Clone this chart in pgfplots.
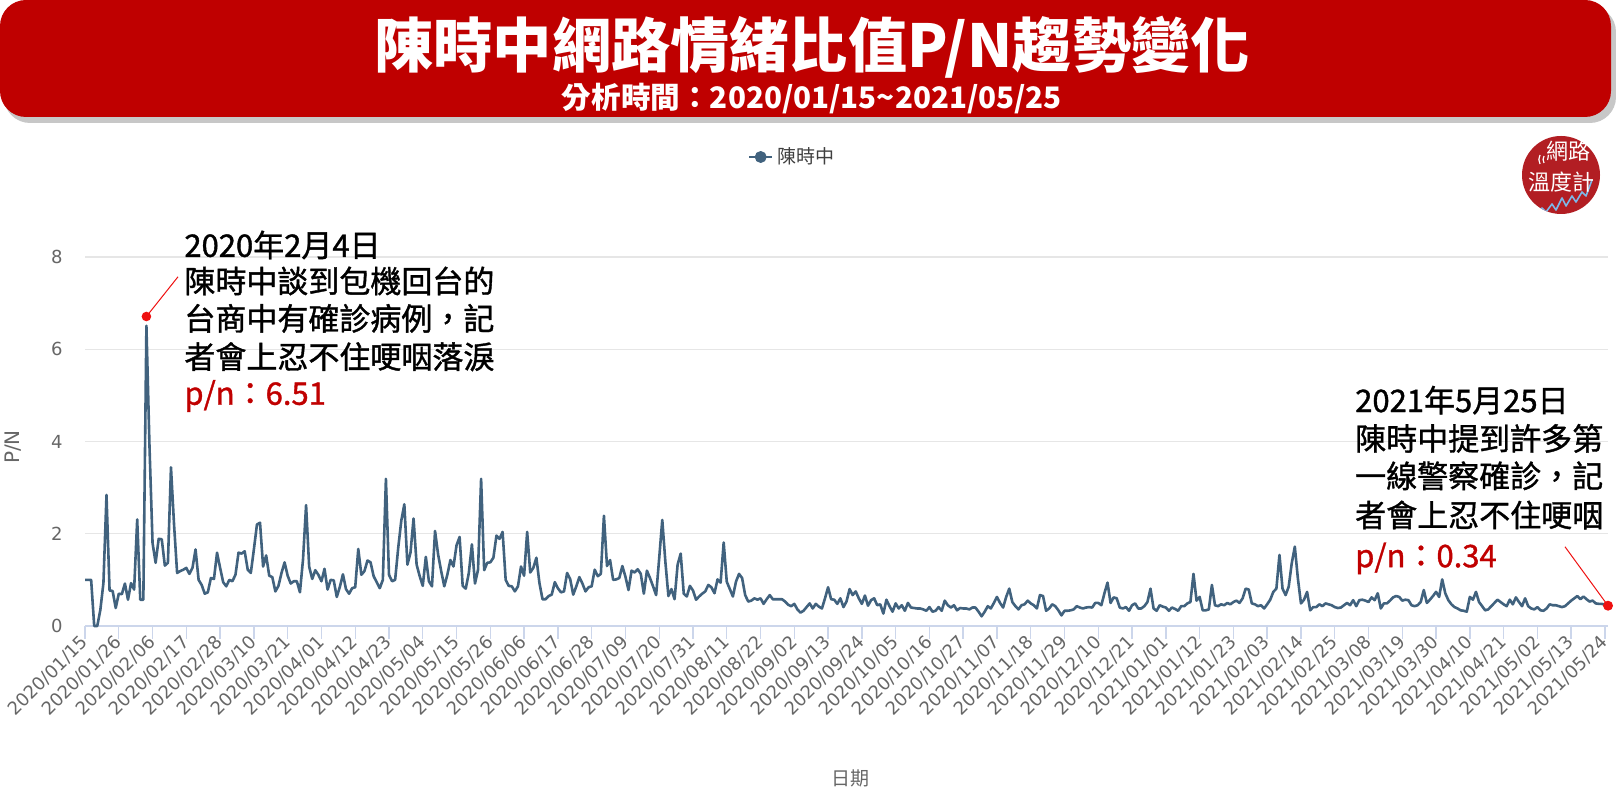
\documentclass[border=0pt]{standalone}
\usepackage{fontspec}
\setmainfont{DejaVu Sans}
\newfontfamily\cjk{Noto Sans CJK TC}
\newfontfamily\cjkm{Noto Sans CJK TC}[FakeBold=1.2]
\usepackage{pgfplots}
\pgfplotsset{compat=1.18}
\definecolor{bannerred}{HTML}{BF0000}
\definecolor{valred}{HTML}{C00000}
\definecolor{dotred}{HTML}{EE1111}
\definecolor{lineblue}{HTML}{41627E}
\definecolor{gridgray}{HTML}{E6E6E6}
\definecolor{axisblue}{HTML}{CCD6EB}
\definecolor{labgray}{HTML}{666666}
\definecolor{logored}{HTML}{B21E23}
\definecolor{squig}{HTML}{7DB8E8}
\begin{document}
\begin{tikzpicture}
\useasboundingbox (0,0) rectangle (808pt,401pt);
% banner
\fill[black!22, rounded corners=13pt] (2pt,339.5pt) rectangle (808pt,398pt);
\fill[bannerred, rounded corners=13pt] (0pt,342.5pt) rectangle (805.5pt,401pt);
\node[text=white, font=\cjk\bfseries\fontsize{29.6}{32}\selectfont, inner sep=0pt] at (406pt,377.5pt) {陳時中網路情緒比值P/N趨勢變化};
\node[text=white, font=\cjk\bfseries\fontsize{14.8}{16}\selectfont, inner sep=0pt] at (406pt,351.5pt) {分析時間：2020/01/15\textasciitilde 2021/05/25};
% logo
\fill[logored] (780.5pt,313.5pt) circle (19.5pt);
\begin{scope}
\clip (780.5pt,313.5pt) circle (19.5pt);
\draw[squig, line width=0.8pt, line join=round] (768pt,294pt) -- (771pt,297pt) -- (773pt,295pt) -- (776pt,299pt) -- (778pt,296pt) -- (781pt,302pt) -- (783pt,298pt) -- (786pt,303pt) -- (788pt,300pt) -- (791pt,305pt) -- (793pt,303pt) -- (796pt,311pt);
\end{scope}
\node[text=white, font=\cjk\fontsize{11}{12}\selectfont, inner sep=0pt] at (784pt,325.5pt) {網路};
\node[text=white, font=\cjk\fontsize{11}{12}\selectfont, inner sep=0pt] at (780.5pt,310pt) {溫度計};
\draw[white, line width=0.6pt] (772pt,323pt) arc (150:210:3.5pt);
\draw[white, line width=0.6pt] (770pt,323.5pt) arc (150:210:4.5pt);
\begin{axis}[
  at={(42.5pt,88pt)}, anchor=south west, scale only axis,
  width=761.5pt, height=184.5pt,
  xmin=0, xmax=496, ymin=0, ymax=8,
  axis x line*=bottom, axis y line*=left,
  x axis line style={draw=axisblue, line width=0.7pt, -},
  y axis line style={draw=none},
  ytick={0,2,4,6,8},
  ymajorgrids, grid style={gridgray, line width=0.6pt},
  xtick={0,11,...,495},
  xticklabels={2020/01/15,2020/01/26,2020/02/06,2020/02/17,2020/02/28,2020/03/10,2020/03/21,2020/04/01,2020/04/12,2020/04/23,2020/05/04,2020/05/15,2020/05/26,2020/06/06,2020/06/17,2020/06/28,2020/07/09,2020/07/20,2020/07/31,2020/08/11,2020/08/22,2020/09/02,2020/09/13,2020/09/24,2020/10/05,2020/10/16,2020/10/27,2020/11/07,2020/11/18,2020/11/29,2020/12/10,2020/12/21,2021/01/01,2021/01/12,2021/01/23,2021/02/03,2021/02/14,2021/02/25,2021/03/08,2021/03/19,2021/03/30,2021/04/10,2021/04/21,2021/05/02,2021/05/13,2021/05/24},
  tick align=outside,
  x tick style={draw=axisblue, line width=0.7pt},
  y tick style={draw=none},
  major tick length=6.5pt,
  xticklabel style={font=\fontsize{9}{10}\selectfont, text=labgray, rotate=45, anchor=east, inner sep=0pt},
  yticklabel style={font=\fontsize{9}{10}\selectfont, text=labgray, anchor=east, inner sep=0pt, xshift=-4.5pt},
  /pgf/number format/assume math mode=true,
  legend style={at={(0.465,1.271)}, anchor=center, draw=none, fill=none, font=\cjk\fontsize{9.5}{10}\selectfont, text=black!75},
  legend image code/.code={\draw[lineblue, line width=1.3pt] (0pt,0pt) -- (11.5pt,0pt); \fill[lineblue] (5.75pt,0pt) circle (2.3pt);},
  clip=false,
]
\addplot[lineblue, line width=1.3pt, mark=none, line join=round] coordinates {
(0,1.0)(1,1.0)(2,1.0)(3,0.0)(4,0.0)(5,0.35)(6,0.93)(7,2.84)(8,0.77)(9,0.76)
(10,0.39)(11,0.70)(12,0.69)(13,0.92)(14,0.57)(15,0.93)(16,0.79)(17,2.31)(18,0.57)(19,0.57)
(20,6.51)(21,3.9)(22,1.8)(23,1.37)(24,1.89)(25,1.88)(26,1.31)(27,1.37)(28,3.44)(29,2.2)
(30,1.15)(31,1.19)(32,1.22)(33,1.26)(34,1.13)(35,1.26)(36,1.66)(37,1.0)(38,0.89)(39,0.70)
(40,0.73)(41,1.04)(42,1.02)(43,1.59)(44,1.26)(45,0.95)(46,0.86)(47,1.0)(48,0.97)(49,1.11)
(50,1.59)(51,1.57)(52,1.62)(53,1.22)(54,1.15)(55,1.66)(56,2.2)(57,2.24)(58,1.29)(59,1.53)
(60,1.09)(61,1.06)(62,0.75)(63,0.87)(64,1.15)(65,1.38)(66,1.09)(67,0.92)(68,0.97)(69,0.97)
(70,0.73)(71,1.44)(72,2.62)(73,1.29)(74,1.02)(75,1.21)(76,1.11)(77,0.97)(78,1.24)(79,0.79)
(80,1.0)(81,0.99)(82,0.63)(83,0.85)(84,1.12)(85,0.8)(86,0.70)(87,0.82)(88,0.84)(89,1.67)
(90,1.11)(91,1.19)(92,1.42)(93,1.38)(94,1.08)(95,0.95)(96,0.82)(97,1.0)(98,3.19)(99,1.11)
(100,0.97)(101,1.0)(102,1.69)(103,2.28)(104,2.64)(105,1.33)(106,1.59)(107,2.33)(108,1.33)(109,1.08)
(110,0.87)(111,1.5)(112,0.97)(113,0.86)(114,2.06)(115,1.55)(116,1.19)(117,0.86)(118,1.11)(119,1.43)
(120,1.29)(121,1.75)(122,1.93)(123,0.87)(124,0.81)(125,1.15)(126,1.77)(127,0.92)(128,1.22)(129,3.19)
(130,1.21)(131,1.37)(132,1.38)(133,1.48)(134,1.96)(135,1.89)(136,2.04)(137,1.0)(138,0.87)(139,0.86)
(140,0.75)(141,0.86)(142,1.29)(143,1.09)(144,2.04)(145,1.16)(146,1.26)(147,1.48)(148,0.93)(149,0.58)
(150,0.58)(151,0.65)(152,0.68)(153,0.95)(154,0.82)(155,0.73)(156,0.75)(157,1.15)(158,1.02)(159,0.68)
(160,0.86)(161,1.06)(162,0.92)(163,0.75)(164,0.84)(165,0.86)(166,1.22)(167,1.08)(168,1.13)(169,2.39)
(170,1.3)(171,1.43)(172,1.0)(173,1.01)(174,1.04)(175,1.30)(176,1.07)(177,0.78)(178,1.2)(179,1.16)
(180,1.23)(181,1.13)(182,0.70)(183,1.2)(184,1.04)(185,0.86)(186,0.67)(187,1.47)(188,2.30)(189,1.4)
(190,0.65)(191,0.8)(192,0.58)(193,1.33)(194,1.57)(195,0.70)(196,0.64)(197,0.87)(198,0.77)(199,0.57)
(200,0.64)(201,0.70)(202,0.75)(203,0.89)(204,0.84)(205,0.71)(206,1.01)(207,0.94)(208,1.81)(209,0.96)
(210,0.8)(211,0.64)(212,0.96)(213,1.13)(214,1.04)(215,0.67)(216,0.53)(217,0.55)(218,0.60)(219,0.57)
(220,0.60)(221,0.48)(222,0.58)(223,0.67)(224,0.58)(225,0.58)(226,0.58)(227,0.58)(228,0.53)(229,0.46)
(230,0.43)(231,0.48)(232,0.36)(233,0.29)(234,0.33)(235,0.41)(236,0.49)(237,0.38)(238,0.48)(239,0.42)
(240,0.38)(241,0.6)(242,0.84)(243,0.58)(244,0.57)(245,0.48)(246,0.60)(247,0.41)(248,0.53)(249,0.8)
(250,0.67)(251,0.75)(252,0.60)(253,0.48)(254,0.66)(255,0.44)(256,0.56)(257,0.6)(258,0.45)(259,0.47)
(260,0.27)(261,0.57)(262,0.43)(263,0.31)(264,0.49)(265,0.38)(266,0.45)(267,0.33)(268,0.5)(269,0.4)
(270,0.39)(271,0.38)(272,0.38)(273,0.36)(274,0.33)(275,0.41)(276,0.31)(277,0.33)(278,0.41)(279,0.33)
(280,0.55)(281,0.45)(282,0.4)(283,0.45)(284,0.34)(285,0.39)(286,0.38)(287,0.38)(288,0.36)(289,0.4)
(290,0.4)(291,0.31)(292,0.21)(293,0.31)(294,0.43)(295,0.38)(296,0.5)(297,0.63)(298,0.5)(299,0.4)
(300,0.63)(301,0.81)(302,0.52)(303,0.43)(304,0.36)(305,0.45)(306,0.47)(307,0.55)(308,0.49)(309,0.45)
(310,0.38)(311,0.67)(312,0.65)(313,0.33)(314,0.38)(315,0.47)(316,0.43)(317,0.34)(318,0.23)(319,0.33)
(320,0.33)(321,0.34)(322,0.36)(323,0.43)(324,0.4)(325,0.38)(326,0.4)(327,0.41)(328,0.4)(329,0.5)
(330,0.5)(331,0.45)(332,0.71)(333,0.94)(334,0.5)(335,0.62)(336,0.6)(337,0.4)(338,0.38)(339,0.41)
(340,0.33)(341,0.45)(342,0.49)(343,0.38)(344,0.38)(345,0.43)(346,0.52)(347,0.81)(348,0.38)(349,0.33)
(350,0.45)(351,0.42)(352,0.4)(353,0.33)(354,0.4)(355,0.37)(356,0.33)(357,0.43)(358,0.43)(359,0.49)
(360,0.52)(361,1.13)(362,0.55)(363,0.63)(364,0.34)(365,0.34)(366,0.36)(367,0.89)(368,0.45)(369,0.43)
(370,0.47)(371,0.45)(372,0.5)(373,0.47)(374,0.52)(375,0.55)(376,0.5)(377,0.6)(378,0.81)(379,0.79)
(380,0.49)(381,0.47)(382,0.43)(383,0.45)(384,0.38)(385,0.47)(386,0.57)(387,0.74)(388,0.81)(389,1.54)
(390,0.81)(391,0.67)(392,0.85)(393,1.36)(394,1.72)(395,1.03)(396,0.49)(397,0.57)(398,0.74)(399,0.34)
(400,0.41)(401,0.41)(402,0.47)(403,0.43)(404,0.49)(405,0.47)(406,0.45)(407,0.41)(408,0.39)(409,0.4)
(410,0.45)(411,0.5)(412,0.45)(413,0.56)(414,0.43)(415,0.56)(416,0.57)(417,0.55)(418,0.52)(419,0.62)
(420,0.56)(421,0.71)(422,0.38)(423,0.49)(424,0.49)(425,0.55)(426,0.62)(427,0.65)(428,0.63)(429,0.55)
(430,0.57)(431,0.56)(432,0.45)(433,0.43)(434,0.45)(435,0.52)(436,0.78)(437,0.5)(438,0.57)(439,0.65)
(440,0.74)(441,0.63)(442,1.01)(443,0.71)(444,0.56)(445,0.47)(446,0.41)(447,0.38)(448,0.34)(449,0.33)
(450,0.31)(451,0.63)(452,0.57)(453,0.74)(454,0.52)(455,0.43)(456,0.34)(457,0.36)(458,0.43)(459,0.5)
(460,0.57)(461,0.52)(462,0.47)(463,0.43)(464,0.57)(465,0.47)(466,0.62)(467,0.52)(468,0.43)(469,0.6)
(470,0.43)(471,0.38)(472,0.36)(473,0.41)(474,0.34)(475,0.33)(476,0.38)(477,0.47)(478,0.45)(479,0.45)
(480,0.43)(481,0.41)(482,0.43)(483,0.49)(484,0.55)(485,0.6)(486,0.65)(487,0.58)(488,0.64)(489,0.58)
(490,0.53)(491,0.55)(492,0.49)(493,0.48)(494,0.48)(495,0.46)(496,0.42)
};
\addlegendentry{陳時中}
\coordinate (d1) at (axis cs:20,6.71);
\coordinate (d2) at (axis cs:496,0.44);
\end{axis}
\draw[dotred, line width=0.5pt] (d1) -- (89pt,262.6pt);
\draw[dotred, line width=0.5pt] (d2) -- (782.5pt,127.6pt);
\fill[dotred] (d1) circle (2.4pt);
\fill[dotred] (d2) circle (2.5pt);
% axis titles
\node[rotate=90, text=labgray, font=\fontsize{10}{11}\selectfont, inner sep=0pt] at (6.5pt,177.5pt) {P/N};
\node[text=labgray, font=\cjk\fontsize{9.5}{10}\selectfont, inner sep=0pt] at (425pt,12pt) {日期};
% annotations
\begin{scope}[every node/.style={anchor=west, inner sep=0pt, font=\cjkm\fontsize{15.5}{17}\selectfont}]
\node at (92pt,278.5pt) {2020年2月4日};
\node at (92pt,260.5pt) {陳時中談到包機回台的};
\node at (92pt,241.8pt) {台商中有確診病例，記};
\node at (92pt,222.6pt) {者會上忍不住哽咽落淚};
\node[text=valred] at (92pt,203pt) {p/n：6.51};
\node at (677.4pt,200.9pt) {2021年5月25日};
\node at (677.4pt,181.8pt) {陳時中提到許多第};
\node at (677.4pt,163.1pt) {一線警察確診，記};
\node at (677.4pt,143.5pt) {者會上忍不住哽咽};
\node[text=valred] at (677.4pt,121.8pt) {p/n：0.34};
\end{scope}
\end{tikzpicture}
\end{document}
